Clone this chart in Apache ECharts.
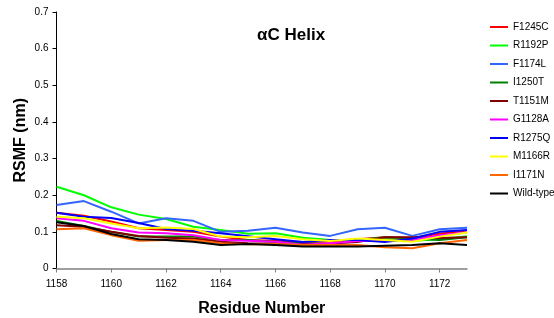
<!DOCTYPE html>
<html>
<head>
<meta charset="utf-8">
<script src="https://cdn.jsdelivr.net/npm/echarts/dist/echarts.min.js"></script>
<style>
  html, body { margin: 0; padding: 0; background: #fff; }
  #main { width: 554px; height: 318px; }
</style>
</head>
<body>
<div id="main"></div>
<script>
// residue numbers along the helix
var residues = [1158, 1159, 1160, 1161, 1162, 1163, 1164, 1165, 1166, 1167, 1168, 1169, 1170, 1171, 1172, 1173];

// RMSF values (nm)
var f1245c = [0.152, 0.144, 0.128, 0.110, 0.105, 0.100, 0.087, 0.078, 0.075, 0.072, 0.074, 0.080, 0.085, 0.083, 0.095, 0.104];
var r1192p = [0.223, 0.200, 0.167, 0.147, 0.135, 0.114, 0.105, 0.095, 0.096, 0.084, 0.078, 0.078, 0.080, 0.076, 0.080, 0.088];
var f1174l = [0.173, 0.184, 0.155, 0.123, 0.137, 0.130, 0.100, 0.103, 0.111, 0.098, 0.089, 0.107, 0.111, 0.089, 0.107, 0.111];
var i1250t = [0.130, 0.116, 0.100, 0.087, 0.087, 0.087, 0.078, 0.078, 0.072, 0.069, 0.067, 0.078, 0.085, 0.082, 0.078, 0.085];
var t1151m = [0.118, 0.114, 0.100, 0.089, 0.084, 0.082, 0.073, 0.069, 0.068, 0.066, 0.068, 0.072, 0.085, 0.085, 0.083, 0.085];
var g1128a = [0.137, 0.130, 0.110, 0.098, 0.096, 0.091, 0.078, 0.076, 0.073, 0.065, 0.069, 0.075, 0.075, 0.078, 0.091, 0.098];
var r1275q = [0.152, 0.141, 0.138, 0.124, 0.108, 0.103, 0.096, 0.088, 0.080, 0.072, 0.078, 0.078, 0.072, 0.082, 0.100, 0.105];
var m1166r = [0.141, 0.137, 0.123, 0.110, 0.112, 0.108, 0.087, 0.085, 0.089, 0.080, 0.075, 0.082, 0.078, 0.073, 0.087, 0.098];
var i1171n = [0.107, 0.110, 0.091, 0.076, 0.078, 0.078, 0.069, 0.066, 0.067, 0.064, 0.064, 0.064, 0.058, 0.055, 0.069, 0.078];
var wildType = [0.126, 0.116, 0.094, 0.080, 0.078, 0.073, 0.064, 0.067, 0.064, 0.060, 0.060, 0.060, 0.062, 0.064, 0.069, 0.064];

var names = ['F1245C', 'R1192P', 'F1174L', 'I1250T', 'T1151M', 'G1128A', 'R1275Q', 'M1166R', 'I1171N', 'Wild-type'];
var values = [f1245c, r1192p, f1174l, i1250t, t1151m, g1128a, r1275q, m1166r, i1171n, wildType];
var colors = ['#FF0000', '#00FF00', '#3366FF', '#008000', '#800000', '#FF00FF', '#0000FF', '#FFFF00', '#FF6600', '#000000'];

function pairs(arr) {
    return residues.map(function (r, i) { return [r, arr[i]]; });
}

var series = names.map(function (n, k) {
    return {
        name: n,
        type: 'line',
        showSymbol: false,
        symbol: 'none',
        lineStyle: { width: 2, color: colors[k] },
        itemStyle: { color: colors[k] },
        data: pairs(values[k])
    };
});

var option = {
    animation: false,
    textStyle: { fontFamily: 'Liberation Sans, Arial, sans-serif' },
    title: {
        text: 'αC Helix',
        left: 257,
        top: 27,
        padding: 0,
        textStyle: { fontSize: 17, fontWeight: 'bold', color: '#000' }
    },
    legend: {
        orient: 'vertical',
        left: 490,
        top: 21,
        padding: 0,
        itemWidth: 18,
        itemHeight: 2,
        itemGap: 6.5,
        itemTextGap: 4,
        icon: 'rect',
        textStyle: { fontSize: 10, color: '#000', lineHeight: 12 },
        data: names
    },
    grid: {
        left: 56.5,
        right: 87,
        top: 12,
        bottom: 49.5,
        containLabel: false,
        outerBoundsMode: 'none'
    },
    xAxis: {
        type: 'value',
        min: 1158,
        max: 1173,
        interval: 2,
        name: 'Residue Number',
        nameLocation: 'middle',
        nameGap: 32,
        nameMoveOverlap: false,
        nameTextStyle: { fontSize: 16, fontWeight: 'bold', color: '#000' },
        axisLine: { show: true, lineStyle: { color: '#808080', width: 1.5 } },
        axisTick: { show: true, length: 4, lineStyle: { color: '#808080' } },
        axisLabel: {
            fontSize: 10, color: '#000', margin: 11,
            showMaxLabel: false,
            formatter: function (v) { return String(v); }
        },
        splitLine: { show: false }
    },
    yAxis: {
        type: 'value',
        min: 0,
        max: 0.7,
        interval: 0.1,
        name: 'RSMF (nm)',
        nameLocation: 'middle',
        nameGap: 28,
        nameMoveOverlap: false,
        nameTextStyle: { fontSize: 16, fontWeight: 'bold', color: '#000' },
        axisLine: { show: true, lineStyle: { color: '#000', width: 1 } },
        axisTick: { show: true, length: 4, lineStyle: { color: '#000' } },
        axisLabel: { fontSize: 10, color: '#000', margin: 8 },
        splitLine: { show: false }
    },
    series: series
};

var myChart = echarts.init(document.getElementById('main'), null, { renderer: 'canvas' });
myChart.setOption(option);
</script>
</body>
</html>
